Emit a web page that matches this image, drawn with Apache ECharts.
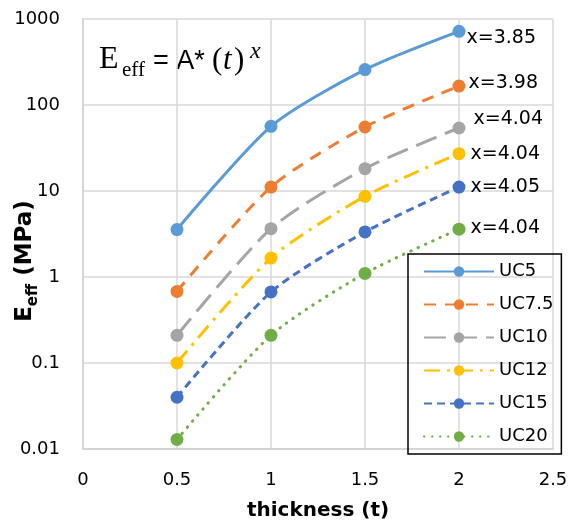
<!DOCTYPE html>
<html>
<head>
<meta charset="utf-8">
<script src="https://cdn.jsdelivr.net/npm/echarts@6/dist/echarts.min.js"></script>
<style>
  html, body { margin: 0; padding: 0; background: #fff; }
  #chart { width: 572px; height: 529px; }
</style>
</head>
<body>
<div id="chart"></div>
<script>
// Effective modulus vs. thickness for each unit-cell size
const thickness = [0.5, 1, 1.5, 2];
const seriesNames = ['UC5', 'UC7.5', 'UC10', 'UC12', 'UC15', 'UC20'];
const uc5   = [3.56, 56.5, 258, 719];
const uc75  = [0.68, 11.1, 55.5, 166];
const uc10  = [0.21, 3.65, 18.2, 54];
const uc12  = [0.10, 1.66, 8.68, 27.2];
const uc15  = [0.040, 0.67, 3.34, 11.1];
const uc20  = [0.0129, 0.21, 1.10, 3.6];
const exponents = ['3.85', '3.98', '4.04', '4.04', '4.05', '4.04'];
const xTickLabels = ['0', '0.5', '1', '1.5', '2', '2.5'];
const yTickLabels = ['0.01', '0.1', '1', '10', '100', '1000'];

const values = [uc5, uc75, uc10, uc12, uc15, uc20];
const colors = ['#5B9BD5', '#ED7D31', '#A5A5A5', '#FFC000', '#4472C4', '#70AD47'];
const dashes = ['solid', [12, 9], [22, 9], [16, 7, 3, 7], [8, 5], [0.5, 7.5]];
const caps = ['butt', 'butt', 'butt', 'butt', 'butt', 'round'];
const labelOffsets = [[-4, 7], [-2, -3], [3, -9], [0, 0], [0, 0], [0, -1]];

const FONT = 'DejaVu Sans';

const series = seriesNames.map((name, i) => ({
  name: name,
  type: 'line',
  smooth: 0.25,
  symbol: 'circle',
  symbolSize: 13,
  color: colors[i],
  itemStyle: { color: colors[i] },
  lineStyle: { color: colors[i], width: 3, type: dashes[i], cap: caps[i] },
  z: 10 - i,
  data: thickness.map((t, j) => {
    const pt = { value: [t, values[i][j]] };
    if (j === thickness.length - 1) {
      pt.label = {
        show: true,
        position: 'right',
        distance: 5,
        offset: labelOffsets[i],
        formatter: 'x=' + exponents[i],
        color: '#000',
        fontFamily: FONT,
        fontSize: 19
      };
    }
    return pt;
  })
}));

const chart = echarts.init(document.getElementById('chart'), null, { renderer: 'canvas' });

chart.setOption({
  animation: false,
  backgroundColor: '#fff',
  grid: { left: 83, right: 19, top: 19, bottom: 80, containLabel: false },
  xAxis: {
    type: 'value',
    min: 0, max: 2.5, interval: 0.5,
    name: 'thickness (t)',
    nameLocation: 'middle',
    nameGap: 52,
    nameTextStyle: { fontFamily: FONT, fontWeight: 'bold', fontSize: 20, color: '#000' },
    axisLine: { show: true, lineStyle: { color: '#D0D0D0', width: 1.5 } },
    axisTick: { show: false },
    splitLine: { show: true, lineStyle: { color: '#D9D9D9', width: 1.5 } },
    axisLabel: {
      fontFamily: FONT, fontSize: 18, color: '#000', margin: 22,
      formatter: (v) => xTickLabels[Math.round(v / 0.5)]
    }
  },
  yAxis: {
    type: 'log',
    logBase: 10,
    min: 0.01, max: 1000,
    axisLine: { show: true, lineStyle: { color: '#D0D0D0', width: 1.5 } },
    axisTick: { show: false },
    splitLine: { show: true, lineStyle: { color: '#D9D9D9', width: 1.5 } },
    axisLabel: {
      fontFamily: FONT, fontSize: 18, color: '#000', margin: 23,
      formatter: (v) => yTickLabels[Math.round(Math.log10(v)) + 2]
    }
  },
  legend: {
    orient: 'vertical',
    left: 408,
    top: 254,
    padding: [7, 8, 7, 15],
    itemGap: 12,
    itemWidth: 70,
    itemHeight: 13,
    borderColor: '#000',
    borderWidth: 1.5,
    textStyle: { fontFamily: FONT, fontSize: 18, lineHeight: 21, color: '#000' },
    data: seriesNames
  },
  graphic: [
    {
      type: 'text',
      x: 23, y: 261,
      rotation: Math.PI / 2,
      style: {
        text: '{a|E}{b|eff}{a| (MPa)}',
        align: 'center',
        verticalAlign: 'middle',
        fill: '#000',
        rich: {
          a: { fontFamily: FONT, fontWeight: 'bold', fontSize: 23, lineHeight: 28, verticalAlign: 'bottom' },
          b: { fontFamily: FONT, fontWeight: 'bold', fontSize: 15, lineHeight: 15, verticalAlign: 'bottom', padding: [0, 0, -4, 0] }
        }
      }
    },
    // Formula annotation: E_eff = A*(t)^x
    { type: 'text', x: 99,  y: 60, style: { text: 'E', font: '32px "Liberation Serif"', fill: '#000', verticalAlign: 'middle' } },
    { type: 'text', x: 122, y: 70, style: { text: 'eff', font: '21px "Liberation Serif"', fill: '#000', verticalAlign: 'middle' } },
    { type: 'text', x: 153, y: 62, style: { text: '= A*', font: '27px "Liberation Sans"', fill: '#000', verticalAlign: 'middle' } },
    { type: 'text', x: 212, y: 61, style: { text: '(', font: '31px "Liberation Serif"', fill: '#000', verticalAlign: 'middle' } },
    { type: 'text', x: 223, y: 61, style: { text: 't', font: 'italic 31px "Liberation Serif"', fill: '#000', verticalAlign: 'middle' } },
    { type: 'text', x: 234, y: 61, style: { text: ')', font: '31px "Liberation Serif"', fill: '#000', verticalAlign: 'middle' } },
    { type: 'text', x: 250, y: 52, style: { text: 'x', font: 'italic 24px "Liberation Serif"', fill: '#000', verticalAlign: 'middle' } }
  ],
  series: series
});
</script>
</body>
</html>
